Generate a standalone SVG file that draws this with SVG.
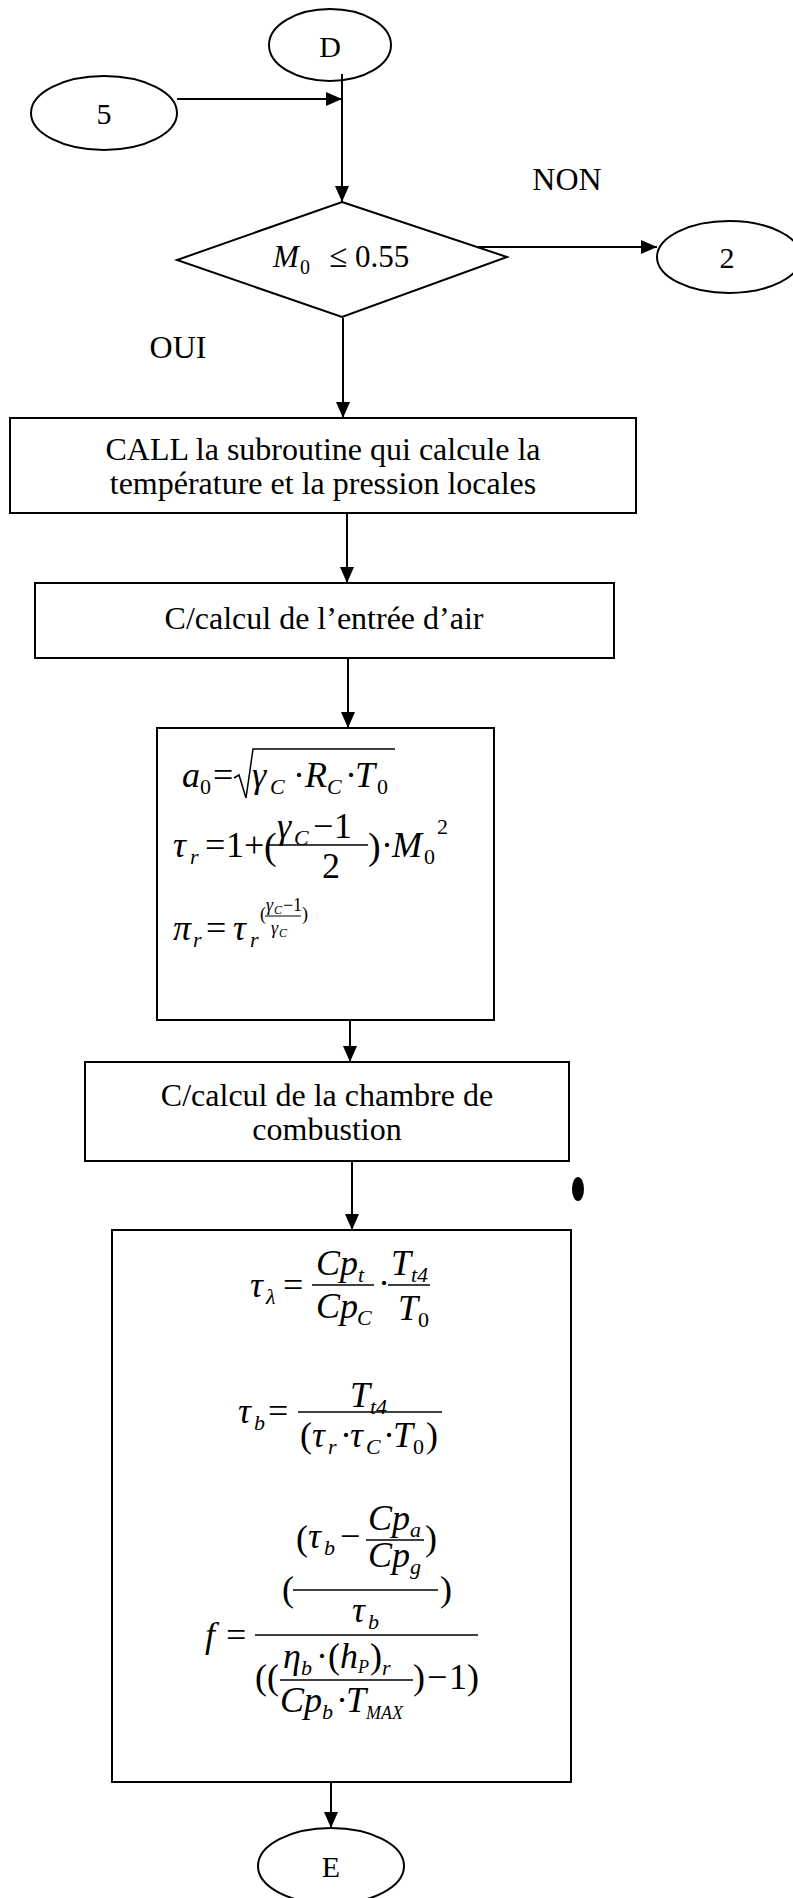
<svg xmlns="http://www.w3.org/2000/svg" width="793" height="1898" viewBox="0 0 793 1898">
<style>
.bg{fill:#fff}
.n{fill:none;stroke:#000;stroke-width:2}
.c{fill:none;stroke:#000;stroke-width:2}
.bar{stroke:#000;stroke-width:1.5;fill:none}
.t{font-family:"Liberation Serif","Times New Roman",serif;font-size:32px;fill:#000}
.lb{font-family:"Liberation Serif","Times New Roman",serif;font-size:30px;fill:#000;text-anchor:middle}
.m{font-family:"Liberation Serif","Times New Roman",serif;font-style:italic;font-size:36px;fill:#000}
.u{font-style:normal}
.s{font-size:22px}
.e{font-size:18px}
.ee{font-size:12px}
</style>
<defs>
<marker id="ah" markerUnits="userSpaceOnUse" markerWidth="16" markerHeight="14" refX="16" refY="7" orient="auto"><path d="M0,0 L16,7 L0,14 z" fill="#000"/></marker>
</defs>
<rect class="bg" x="0" y="0" width="793" height="1898"/>

<g id="connectors">
<line class="c" x1="342" y1="74" x2="342" y2="202" marker-end="url(#ah)"/>
<line class="c" x1="177" y1="99" x2="342" y2="99" marker-end="url(#ah)"/>
<line class="c" x1="478" y1="247" x2="657" y2="247" marker-end="url(#ah)"/>
<line class="c" x1="343" y1="318" x2="343" y2="418" marker-end="url(#ah)"/>
<line class="c" x1="347" y1="513" x2="347" y2="583" marker-end="url(#ah)"/>
<line class="c" x1="348" y1="658" x2="348" y2="728" marker-end="url(#ah)"/>
<line class="c" x1="350" y1="1020" x2="350" y2="1062" marker-end="url(#ah)"/>
<line class="c" x1="352" y1="1161" x2="352" y2="1230" marker-end="url(#ah)"/>
<line class="c" x1="331" y1="1782" x2="331" y2="1828" marker-end="url(#ah)"/>
</g>

<g id="nodeD">
<ellipse class="n" cx="330" cy="45" rx="61" ry="36"/>
<text class="lb" x="330" y="57">D</text>
</g>

<g id="node5">
<ellipse class="n" cx="104" cy="113" rx="73" ry="37"/>
<text class="lb" x="104" y="124">5</text>
</g>

<g id="decision">
<polygon class="n" points="342,202 507,257 342,317 177,260"/>
<text class="m"><tspan x="273" y="267" style="font-size:31px">M</tspan><tspan class="u" x="300" y="274" style="font-size:20px">0</tspan><tspan class="u" x="329" y="267" style="font-size:33px">≤</tspan><tspan class="u" x="355" y="267" style="font-size:31px">0.55</tspan></text>
</g>

<g id="labelNON">
<text class="t" x="567" y="190" text-anchor="middle">NON</text>
</g>

<g id="labelOUI">
<text class="t" x="178" y="358" text-anchor="middle">OUI</text>
</g>

<g id="node2">
<ellipse class="n" cx="729" cy="257" rx="72" ry="36"/>
<text class="lb" x="727" y="268">2</text>
</g>

<g id="callBox">
<rect class="n" x="10" y="418" width="626" height="95"/>
<text class="t" x="323" y="460" text-anchor="middle">CALL la subroutine qui calcule la</text>
<text class="t" x="323" y="494" text-anchor="middle">température et la pression locales</text>
</g>

<g id="entreeBox">
<rect class="n" x="35" y="583" width="579" height="75"/>
<text class="t" x="324" y="629" text-anchor="middle">C/calcul de l’entrée d’air</text>
</g>

<g id="formulaBox1">
<rect class="n" x="157" y="728" width="337" height="292"/>
<text class="m"><tspan x="182" y="787">a</tspan><tspan class="s u" x="200" y="794">0</tspan><tspan class="u" x="213" y="787">=</tspan><tspan x="252" y="787">γ</tspan><tspan class="s" x="270" y="794">C</tspan><tspan class="u" x="293" y="787">·</tspan><tspan x="305" y="787">R</tspan><tspan class="s" x="327" y="794">C</tspan><tspan class="u" x="345" y="787">·</tspan><tspan x="355" y="787">T</tspan><tspan class="s u" x="377" y="794">0</tspan></text>
<path class="bar" d="M234,778 L239,775 L246,798 L253,749 L395,749"/>

<text class="m"><tspan x="173" y="857">τ</tspan><tspan class="s" x="190" y="864">r</tspan><tspan class="u" x="205" y="857">=</tspan><tspan class="u" x="226" y="857">1</tspan><tspan class="u" x="244" y="857">+</tspan><tspan class="u" x="264" y="859" style="font-size:38px">(</tspan><tspan x="277" y="838">γ</tspan><tspan class="s" x="294" y="845">C</tspan><tspan class="u" x="313" y="838">−</tspan><tspan class="u" x="334" y="838">1</tspan><tspan class="u" x="322" y="878">2</tspan><tspan class="u" x="368" y="859" style="font-size:38px">)</tspan><tspan class="u" x="381" y="857">·</tspan><tspan x="392" y="857">M</tspan><tspan class="s u" x="424" y="864">0</tspan><tspan class="s u" x="437" y="834">2</tspan></text>
<line class="bar" x1="268" y1="845" x2="368" y2="845"/>

<text class="m"><tspan x="173" y="940">π</tspan><tspan class="s" x="193" y="947">r</tspan><tspan class="u" x="206" y="940">=</tspan><tspan x="233" y="940">τ</tspan><tspan class="s" x="250" y="947">r</tspan><tspan class="e u" x="260" y="920">(</tspan><tspan class="e" x="266" y="911">γ</tspan><tspan class="ee" x="274" y="914">C</tspan><tspan class="e u" x="283" y="911">−</tspan><tspan class="e u" x="293" y="911">1</tspan><tspan class="e" x="271" y="934">γ</tspan><tspan class="ee" x="279" y="937">C</tspan><tspan class="e u" x="302" y="920">)</tspan></text>
<line class="bar" x1="265" y1="916" x2="301" y2="916" style="stroke-width:1"/>
</g>

<g id="chamberBox">
<rect class="n" x="85" y="1062" width="484" height="99"/>
<text class="t" x="327" y="1106" text-anchor="middle">C/calcul de la chambre de</text>
<text class="t" x="327" y="1140" text-anchor="middle">combustion</text>
</g>

<g id="mark">
<ellipse cx="578" cy="1189" rx="6" ry="12" fill="#000"/>
</g>

<g id="formulaBox2">
<rect class="n" x="112" y="1230" width="459" height="552"/>

<text class="m"><tspan x="250" y="1297">τ</tspan><tspan class="s" x="266" y="1304">λ</tspan><tspan class="u" x="283" y="1297">=</tspan><tspan x="316" y="1275">Cp</tspan><tspan class="s" x="358" y="1282">t</tspan><tspan x="316" y="1318">Cp</tspan><tspan class="s" x="357" y="1325">C</tspan><tspan class="u" x="378" y="1295">·</tspan><tspan x="391" y="1275">T</tspan><tspan class="s" x="411" y="1282">t4</tspan><tspan x="398" y="1320">T</tspan><tspan class="s u" x="418" y="1327">0</tspan></text>
<line class="bar" x1="312" y1="1285" x2="374" y2="1285"/>
<line class="bar" x1="388" y1="1285" x2="430" y2="1285"/>

<text class="m"><tspan x="238" y="1423">τ</tspan><tspan class="s" x="254" y="1430">b</tspan><tspan class="u" x="268" y="1423">=</tspan><tspan x="350" y="1407">T</tspan><tspan class="s" x="370" y="1414">t4</tspan><tspan class="u" x="300" y="1447">(</tspan><tspan x="312" y="1447">τ</tspan><tspan class="s" x="328" y="1454">r</tspan><tspan class="u" x="340" y="1447">·</tspan><tspan x="350" y="1447">τ</tspan><tspan class="s" x="366" y="1454">C</tspan><tspan class="u" x="383" y="1447">·</tspan><tspan x="393" y="1447">T</tspan><tspan class="s u" x="413" y="1454">0</tspan><tspan class="u" x="426" y="1447">)</tspan></text>
<line class="bar" x1="298" y1="1412" x2="442" y2="1412"/>

<text class="m"><tspan class="u" x="296" y="1550">(</tspan><tspan x="308" y="1548">τ</tspan><tspan class="s" x="324" y="1555">b</tspan><tspan class="u" x="340" y="1548">−</tspan><tspan x="368" y="1530">Cp</tspan><tspan class="s" x="410" y="1537">a</tspan><tspan x="368" y="1567">Cp</tspan><tspan class="s" x="410" y="1574">g</tspan><tspan class="u" x="425" y="1550">)</tspan><tspan class="u" x="282" y="1601">(</tspan><tspan class="u" x="440" y="1601">)</tspan><tspan x="352" y="1622">τ</tspan><tspan class="s" x="368" y="1629">b</tspan><tspan x="205" y="1647">f</tspan><tspan class="u" x="226" y="1647">=</tspan><tspan class="u" x="255" y="1689">((</tspan><tspan x="283" y="1668">η</tspan><tspan class="s" x="301" y="1675">b</tspan><tspan class="u" x="316" y="1668">·</tspan><tspan class="u" x="328" y="1668">(</tspan><tspan x="340" y="1668">h</tspan><tspan class="e" x="358" y="1673">P</tspan><tspan class="u" x="370" y="1668">)</tspan><tspan class="s" x="382" y="1675">r</tspan><tspan x="280" y="1712">Cp</tspan><tspan class="s" x="322" y="1719">b</tspan><tspan class="u" x="336" y="1712">·</tspan><tspan x="346" y="1712">T</tspan><tspan class="e" x="366" y="1719">MAX</tspan><tspan class="u" x="413" y="1689">)</tspan><tspan class="u" x="427" y="1689">−</tspan><tspan class="u" x="449" y="1689">1</tspan><tspan class="u" x="467" y="1689">)</tspan></text>
<line class="bar" x1="366" y1="1540" x2="424" y2="1540"/>
<line class="bar" x1="293" y1="1590" x2="438" y2="1590"/>
<line class="bar" x1="255" y1="1635" x2="478" y2="1635"/>
<line class="bar" x1="280" y1="1680" x2="413" y2="1680"/>
</g>

<g id="nodeE">
<ellipse class="n" cx="331" cy="1866" rx="73" ry="38"/>
<text class="lb" x="331" y="1877">E</text>
</g>
</svg>
